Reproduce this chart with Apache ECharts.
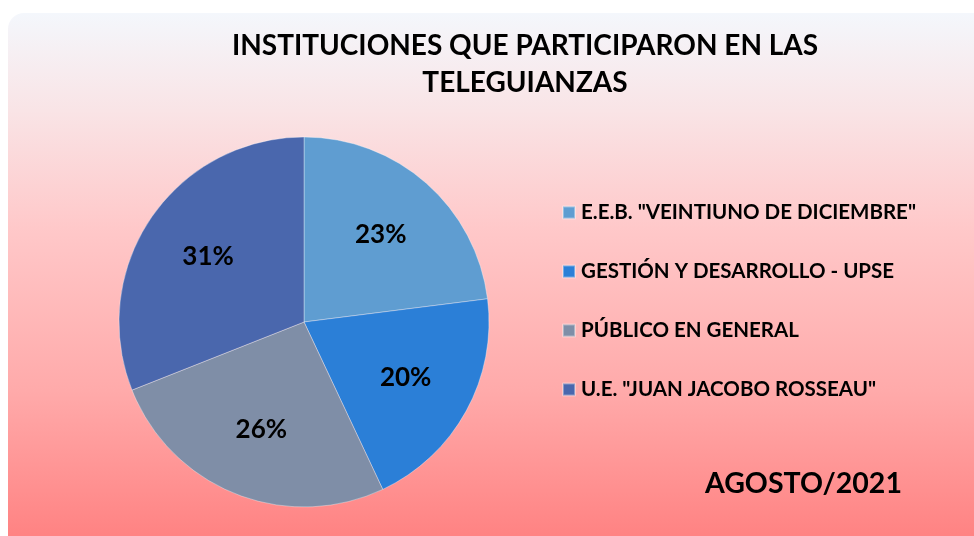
<!DOCTYPE html>
<html>
<head>
<meta charset="utf-8">
<script src="https://cdn.jsdelivr.net/npm/echarts@6/dist/echarts.min.js"></script>
<style>
  html, body { margin: 0; padding: 0; background: #ffffff; }
  #chart { width: 974px; height: 536px; }
</style>
</head>
<body>
<div id="chart"></div>
<script>
const institutions = [
  'E.E.B. "VEINTIUNO DE DICIEMBRE"',
  'GESTIÓN Y DESARROLLO - UPSE',
  'PÚBLICO EN GENERAL',
  'U.E. "JUAN JACOBO ROSSEAU"'
];
const shares = [23, 20, 26, 31];
const sliceColors = ['#5f9dd1', '#2b7fd7', '#7f8ea7', '#4a67ad'];

const font = 'Lato, "DejaVu Sans", sans-serif';
const myChart = echarts.init(document.getElementById('chart'));

const pieData = institutions.map((name, i) => ({
  name,
  value: shares[i],
  itemStyle: { color: sliceColors[i] }
}));

const option = {
  animation: false,
  backgroundColor: 'transparent',
  graphic: [
    {
      type: 'rect',
      z: -10,
      shape: { x: 8, y: 13, width: 980, height: 540, r: [16, 0, 0, 16] },
      style: {
        fill: new echarts.graphic.LinearGradient(0, 0, 0, 1, [
          { offset: 0, color: '#f4f7fc' },
          { offset: 0.18, color: '#f9e4e6' },
          { offset: 0.4, color: '#ffc8c9' },
          { offset: 0.7, color: '#ffaaaa' },
          { offset: 1, color: '#ff7e7e' }
        ])
      }
    },
    {
      type: 'text',
      left: 705,
      top: 469,
      style: {
        text: 'AGOSTO/2021',
        font: 'bold 28.5px ' + font,
        fill: '#000000'
      }
    }
  ],
  title: {
    text: 'INSTITUCIONES QUE PARTICIPARON EN LAS\nTELEGUIANZAS',
    left: 520,
    top: 22,
    textAlign: 'center',
    textStyle: {
      fontFamily: font,
      fontWeight: 'bold',
      fontSize: 28,
      lineHeight: 37,
      color: '#000000'
    }
  },
  legend: {
    data: institutions,
    orient: 'vertical',
    left: 562,
    top: 202,
    padding: 0,
    icon: 'rect',
    itemWidth: 12,
    itemHeight: 12,
    itemGap: 38,
    selectedMode: false,
    textStyle: {
      fontFamily: font,
      fontWeight: 'bold',
      fontSize: 20.5,
      lineHeight: 20,
      color: '#000000',
      padding: [0, 0, 0, 1]
    }
  },
  series: [
    {
      name: 'Instituciones',
      type: 'pie',
      center: [304, 322],
      radius: 185,
      startAngle: 90,
      clockwise: true,
      silent: true,
      label: { show: false },
      labelLine: { show: false },
      itemStyle: { borderColor: 'rgba(255,255,255,0.35)', borderWidth: 1 },
      data: pieData
    },
    {
      // transparent twin used only to place the percentage labels further out
      name: 'Etiquetas',
      type: 'pie',
      center: [304, 322],
      radius: 226,
      startAngle: 90,
      clockwise: true,
      silent: true,
      itemStyle: { color: 'transparent' },
      label: {
        show: true,
        position: 'inside',
        formatter: '{c}%',
        fontFamily: font,
        fontWeight: 'bold',
        fontSize: 26,
        color: '#000000'
      },
      labelLine: { show: false },
      data: institutions.map((name, i) => ({ name, value: shares[i] }))
    }
  ]
};

myChart.setOption(option);
window.addEventListener('resize', myChart.resize);
</script>
</body>
</html>
